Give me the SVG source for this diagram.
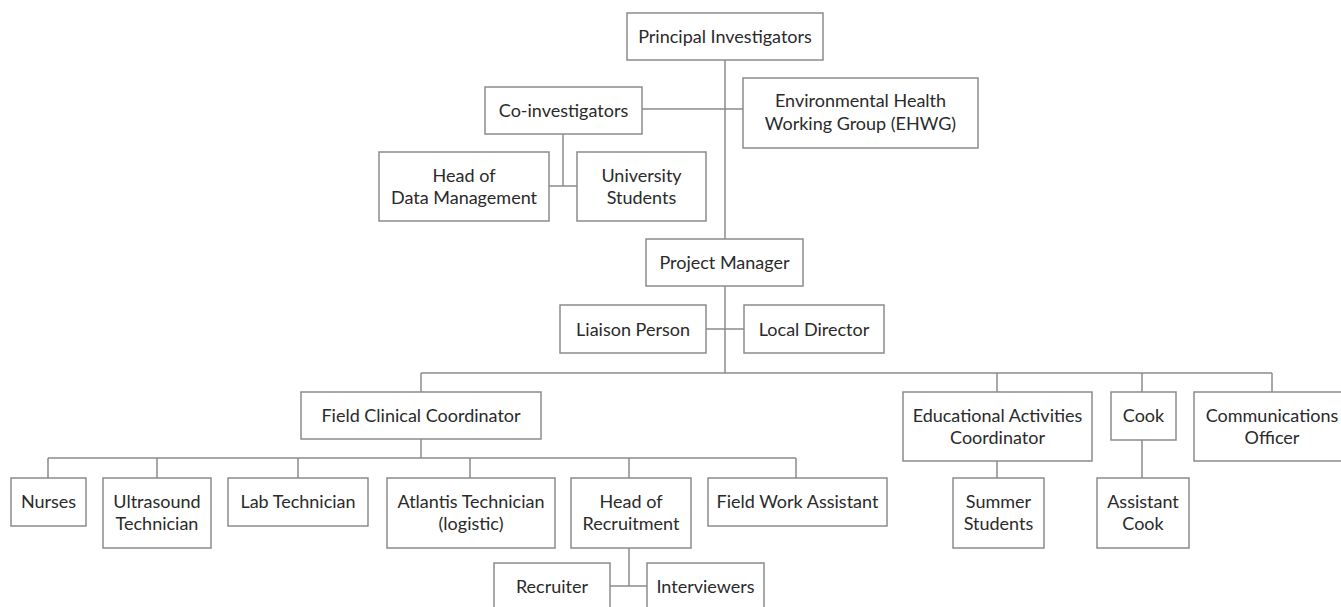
<svg xmlns="http://www.w3.org/2000/svg" width="1341" height="607" viewBox="0 0 1341 607">
<style>
.box{fill:#fff;stroke:#8c8c8c;stroke-width:1.5}
.ln{fill:none;stroke:#8c8c8c;stroke-width:1.5}
text{font-family:Lato,"Open Sans","Liberation Sans",sans-serif;font-size:18px;fill:#2a2a2a;text-anchor:middle}
</style>
<rect width="1341" height="607" fill="#fff"/>
<g id="connectors" class="ln">
<path d="M725 60V239M642 109H743M563 134V186M549 186H577"/>
<path d="M725 286V373M706 329H744M421 373H1272M421 373V392M997 373V392M1142 373V392M1272 373V392"/>
<path d="M421 439V458M48 458H796M48 458V478M157 458V478M298 458V478M470 458V478M629 458V478M796 458V478"/>
<path d="M629 548V586M610 586H647M997 461V478M1142 440V478"/>
</g>
<g id="pi"><rect class="box" x="627" y="13" width="196" height="47"/><text x="725" y="42.5">Principal Investigators</text></g>
<g id="coinv"><rect class="box" x="485" y="87" width="157" height="47"/><text x="563.5" y="116.5">Co-investigators</text></g>
<g id="ehwg"><rect class="box" x="743" y="78" width="235" height="70"/><text x="860.5" y="107">Environmental Health</text><text x="860.5" y="129.5">Working Group (EHWG)</text></g>
<g id="hdm"><rect class="box" x="379" y="152" width="170" height="69"/><text x="464" y="182">Head of</text><text x="464" y="203.5">Data Management</text></g>
<g id="us"><rect class="box" x="577" y="152" width="129" height="69"/><text x="641.5" y="182">University</text><text x="641.5" y="203.5">Students</text></g>
<g id="pm"><rect class="box" x="646" y="239" width="157" height="47"/><text x="724.5" y="268.5">Project Manager</text></g>
<g id="lp"><rect class="box" x="560" y="305" width="146" height="48"/><text x="633" y="335.5">Liaison Person</text></g>
<g id="ld"><rect class="box" x="744" y="305" width="140" height="48"/><text x="814" y="335.5">Local Director</text></g>
<g id="fcc"><rect class="box" x="301" y="392" width="240" height="47"/><text x="421" y="421.5">Field Clinical Coordinator</text></g>
<g id="eac"><rect class="box" x="903" y="392" width="189" height="69"/><text x="997.5" y="422">Educational Activities</text><text x="997.5" y="443.5">Coordinator</text></g>
<g id="cook"><rect class="box" x="1111" y="392" width="65" height="48"/><text x="1143.5" y="422">Cook</text></g>
<g id="co"><rect class="box" x="1194" y="392" width="156" height="69"/><text x="1272" y="422">Communications</text><text x="1272" y="443.5">Officer</text></g>
<g id="nurses"><rect class="box" x="11" y="478" width="75" height="48"/><text x="48.5" y="508">Nurses</text></g>
<g id="ut"><rect class="box" x="103" y="478" width="108" height="70"/><text x="157" y="508">Ultrasound</text><text x="157" y="529.5">Technician</text></g>
<g id="lt"><rect class="box" x="228" y="478" width="140" height="48"/><text x="298" y="508">Lab Technician</text></g>
<g id="at"><rect class="box" x="387" y="478" width="168" height="70"/><text x="471" y="508">Atlantis Technician</text><text x="471" y="529.5">(logistic)</text></g>
<g id="hr"><rect class="box" x="571" y="478" width="120" height="70"/><text x="631" y="508">Head of</text><text x="631" y="529.5">Recruitment</text></g>
<g id="fwa"><rect class="box" x="708" y="478" width="179" height="48"/><text x="797.5" y="508">Field Work Assistant</text></g>
<g id="ss"><rect class="box" x="953" y="478" width="91" height="70"/><text x="998.5" y="508">Summer</text><text x="998.5" y="529.5">Students</text></g>
<g id="ac"><rect class="box" x="1097" y="478" width="92" height="70"/><text x="1143" y="508">Assistant</text><text x="1143" y="529.5">Cook</text></g>
<g id="recruiter"><rect class="box" x="494" y="563" width="116" height="60"/><text x="552" y="593">Recruiter</text></g>
<g id="interviewers"><rect class="box" x="647" y="563" width="117" height="60"/><text x="705.5" y="593">Interviewers</text></g>
</svg>
